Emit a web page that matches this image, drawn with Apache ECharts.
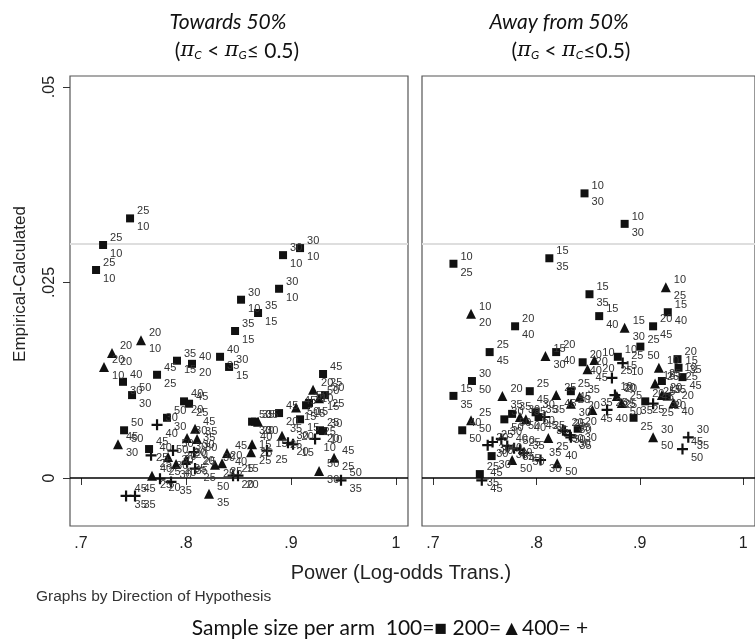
<!DOCTYPE html>
<html>
<head>
<meta charset="utf-8">
<script src="https://cdn.jsdelivr.net/npm/echarts@6/dist/echarts.min.js"></script>
<style>
  html, body { margin: 0; padding: 0; background: #fff; }
  #chart { width: 755px; height: 641px; }
</style>
</head>
<body>
<div id="chart"></div>
<script>
// Each point: [power (log-odds), empirical - calculated, upper label, lower label]
// Panel 1: towards 50%, by sample size per arm
const towards100 = [
  [0.7467, 0.0332, '25', '10'], [0.7210, 0.0298, '25', '10'], [0.7143, 0.0266, '25', '10'],
  [0.9086, 0.0294, '30', '10'], [0.8924, 0.0285, '30', '10'], [0.8886, 0.0242, '30', '10'],
  [0.8524, 0.0228, '30', '10'], [0.8686, 0.0211, '35', '15'], [0.8467, 0.0188, '35', '15'],
  [0.8324, 0.0155, '40', '35'], [0.8410, 0.0142, '30', '15'], [0.7914, 0.0150, '35', '15'],
  [0.8057, 0.0146, '40', '20'], [0.7724, 0.0132, '45', '25'], [0.7400, 0.0123, '40', '30'],
  [0.7486, 0.0106, '50', '30'], [0.7981, 0.0098, '40', '20'], [0.8029, 0.0095, '45', '25'],
  [0.7819, 0.0077, '50', '30'], [0.7410, 0.0061, '50', '50'], [0.7648, 0.0037, '45', '25'],
  [0.9305, 0.0133, '45', '25'], [0.9324, 0.0106, '30', '25'], [0.9171, 0.0096, '50', '15'],
  [0.9143, 0.0093, '30', '15'], [0.8886, 0.0083, '45', '20'], [0.9086, 0.0075, '50', '15'],
  [0.8629, 0.0072, '50', '30'], [0.8657, 0.0072, '35', '20'], [0.9276, 0.0061, '25', '20'],
  [0.9305, 0.0060, '30', '10']
];
const towards200 = [
  [0.7571, 0.0176, '20', '10'], [0.7295, 0.0160, '20', '20'], [0.7219, 0.0142, '20', '10'],
  [0.7352, 0.0043, '45', '30'], [0.8086, 0.0063, '45', '35'], [0.8105, 0.0050, '35', '30'],
  [0.8010, 0.0051, '30', '30'], [0.7829, 0.0027, '50', '30'], [0.7905, 0.0018, '30', '40'],
  [0.8000, 0.0023, '20', '35'], [0.8276, 0.0017, '30', '25'], [0.8343, 0.0019, '20', '25'],
  [0.8390, 0.0032, '45', '40'], [0.7676, 0.0003, '40', '25'], [0.8219, -0.0020, '50', '35'],
  [0.9210, 0.0113, '20', '10'], [0.9267, 0.0102, '50', '15'], [0.9048, 0.0090, '45', '15'],
  [0.8686, 0.0072, '35', '30'], [0.8914, 0.0054, '35', '25'], [0.8629, 0.0043, '40', '25'],
  [0.8619, 0.0033, '15', '25'], [0.9410, 0.0026, '45', '25'], [0.9267, 0.0009, '50', '30']
];
const towards400 = [
  [0.7724, 0.0068, '30', '40'], [0.7667, 0.0029, '40', '25'], [0.7876, 0.0035, '50', '30'],
  [0.8010, 0.0020, '20', '35'], [0.8076, 0.0033, '30', '20'], [0.8086, 0.0012, '25', '25'],
  [0.7752, -0.0001, '25', '20'], [0.7857, -0.0005, '30', '35'], [0.7429, -0.0023, '45', '35'],
  [0.7514, -0.0023, '45', '35'], [0.8448, 0.0003, '25', '20'], [0.8495, 0.0003, '15', '20'],
  [0.8971, 0.0045, '30', '20'], [0.9019, 0.0043, '20', '15'], [0.9229, 0.0050, '25', '10'],
  [0.8771, 0.0035, '15', '25'], [0.9476, -0.0003, '50', '35']
];
// Panel 2: away from 50%
const away100 = [
  [0.7199, 0.0274, '10', '25'], [0.8126, 0.0281, '15', '35'], [0.8466, 0.0364, '10', '30'],
  [0.8854, 0.0325, '10', '30'], [0.7795, 0.0194, '20', '40'], [0.7549, 0.0161, '25', '45'],
  [0.8192, 0.0161, '20', '40'], [0.7378, 0.0124, '30', '50'], [0.7199, 0.0105, '15', '35'],
  [0.7937, 0.0111, '25', '45'], [0.8514, 0.0235, '15', '35'], [0.8608, 0.0207, '15', '40'],
  [0.9129, 0.0194, '20', '45'], [0.9271, 0.0212, '15', '40'], [0.9006, 0.0168, '25', '50'],
  [0.8788, 0.0155, '10', '15'], [0.8448, 0.0148, '20', '40'], [0.7766, 0.0082, '35', '50'],
  [0.7691, 0.0075, '30', '50'], [0.7993, 0.0084, '30', '50'], [0.8022, 0.0078, '35', '45'],
  [0.7284, 0.0061, '40', '50'], [0.7568, 0.0028, '30', '30'], [0.7454, 0.0005, '25', '35'],
  [0.8334, 0.0111, '25', '20'], [0.8400, 0.0063, '20', '30'], [0.9365, 0.0152, '20', '10'],
  [0.9375, 0.0141, '15', '25'], [0.9413, 0.0129, '35', '45'], [0.9214, 0.0124, '25', '15'],
  [0.9261, 0.0104, '35', '20'], [0.9053, 0.0098, '20', '25'], [0.8940, 0.0077, '35', '25']
];
const away200 = [
  [0.7369, 0.0210, '10', '20'], [0.8088, 0.0156, '15', '30'], [0.7672, 0.0105, '20', '35'],
  [0.8192, 0.0106, '25', '45'], [0.8334, 0.0095, '45', '30'], [0.8419, 0.0104, '35', '20'],
  [0.7369, 0.0074, '25', '50'], [0.7842, 0.0078, '30', '50'], [0.7899, 0.0075, '35', '40'],
  [0.8116, 0.0051, '35', '25'], [0.8202, 0.0019, '40', '50'], [0.7766, 0.0023, '30', '50'],
  [0.8854, 0.0192, '15', '30'], [0.9252, 0.0244, '10', '25'], [0.8495, 0.0139, '20', '45'],
  [0.8561, 0.0151, '10', '20'], [0.9185, 0.0141, '10', '25'], [0.9148, 0.0121, '15', '25'],
  [0.9214, 0.0106, '20', '30'], [0.9327, 0.0096, '20', '40'], [0.9129, 0.0052, '30', '50'],
  [0.8779, 0.0105, '20', '25'], [0.8542, 0.0087, '35', '45'], [0.8826, 0.0096, '25', '50']
];
const away400 = [
  [0.7530, 0.0042, '20', '30'], [0.7577, 0.0046, '25', '30'], [0.7662, 0.0050, '30', '40'],
  [0.7719, 0.0041, '40', '30'], [0.7785, 0.0038, '50', '35'], [0.7842, 0.0036, '25', '45'],
  [0.7880, 0.0032, '35', '50'], [0.8041, 0.0023, '35', '30'], [0.8079, 0.0078, '35', '25'],
  [0.8277, 0.0060, '25', '30'], [0.8324, 0.0055, '35', '30'], [0.7473, -0.0003, '45', '45'],
  [0.8835, 0.0147, '25', '10'], [0.8731, 0.0128, '25', '10'], [0.8684, 0.0087, '25', '40'],
  [0.9129, 0.0095, '45', '25'], [0.9469, 0.0052, '30', '35'], [0.9413, 0.0037, '45', '50'],
  [0.8258, 0.0061, '20', '30'], [0.8334, 0.0052, '30', '35'], [0.8760, 0.0106, '20', '25']
];

const xTickValues = [0.7, 0.8, 0.9, 1.0];
const xTickLabels = ['.7', '.8', '.9', '1'];
const yTickValues = [0, 0.025, 0.05];
const yTickLabels = ['0', '.025', '.05'];
const panelTitles = ['Towards 50%', 'Away from 50%'];

const PLUS = 'path://M4,0H6V4H10V6H6V10H4V6H0V4H4Z';
const ARIAL = '"Liberation Sans", Arial, sans-serif';
const CAL = 'Lato, "Open Sans", sans-serif';

const xRange = { min: 0.6895, max: 1.0114 };
const yRange = { min: -0.00614, max: 0.05141 };

function xAxisFor(i) {
  return {
    type: 'value', gridIndex: i, min: xRange.min, max: xRange.max,
    axisLine: { show: false },
    splitLine: { show: false },
    axisTick: { show: true, customValues: xTickValues, length: 7, lineStyle: { color: '#333', width: 1 } },
    axisLabel: {
      customValues: xTickValues, margin: 10, fontSize: 16, color: '#222', fontFamily: ARIAL,
      formatter: v => xTickLabels[xTickValues.findIndex(t => Math.abs(t - v) < 1e-9)] ?? ''
    }
  };
}
function yAxisFor(i) {
  const withLabels = i === 0;
  return {
    type: 'value', gridIndex: i, min: yRange.min, max: yRange.max,
    axisLine: { show: false },
    splitLine: { show: false },
    axisTick: { show: withLabels, customValues: yTickValues, length: 7, lineStyle: { color: '#333', width: 1 } },
    axisLabel: {
      show: withLabels, customValues: yTickValues, rotate: 90, margin: 12,
      fontSize: 16, color: '#222', fontFamily: ARIAL,
      formatter: v => yTickLabels[yTickValues.findIndex(t => Math.abs(t - v) < 1e-9)] ?? ''
    }
  };
}

const pointLabel = {
  show: true, position: 'right', distance: 3, offset: [0, 1],
  fontSize: 11, lineHeight: 16, color: '#333', fontFamily: ARIAL,
  formatter: p => p.data[2] + '\n' + p.data[3]
};

function scatter(data, i, symbol, size, withLines) {
  const s = {
    type: 'scatter', xAxisIndex: i, yAxisIndex: i, data: data,
    symbol: symbol, symbolSize: size, silent: true,
    itemStyle: { color: '#111', opacity: 1 },
    label: pointLabel, z: 3
  };
  if (withLines) {
    s.markLine = {
      silent: true, symbol: 'none', label: { show: false }, z: 1,
      data: [
        { yAxis: 0.025, lineStyle: { color: '#dedede', width: 2, type: 'solid' } },
        { yAxis: 0, lineStyle: { color: '#000', width: 1.5, type: 'solid' } }
      ]
    };
  }
  return s;
}

const subRich = {
  p: { font: 'italic 21px "DejaVu Serif", serif', fill: '#111' },
  s: { font: 'italic 12px ' + CAL, fill: '#111', verticalAlign: 'bottom', padding: [8, 0, 0, 0] }
};

const chart = echarts.init(document.getElementById('chart'), null, { renderer: 'canvas' });
chart.setOption({
  animation: false,
  backgroundColor: '#fff',
  grid: [
    { left: 70, top: 76, width: 338, height: 450, show: true, borderColor: '#555', borderWidth: 1.2, backgroundColor: '#fff' },
    { left: 422, top: 76, width: 338, height: 450, show: true, borderColor: '#555', borderWidth: 1.2, backgroundColor: '#fff' }
  ],
  xAxis: [xAxisFor(0), xAxisFor(1)],
  yAxis: [yAxisFor(0), yAxisFor(1)],
  series: [
    scatter(towards100, 0, 'rect', 8, true),
    scatter(towards200, 0, 'triangle', 10, false),
    scatter(towards400, 0, PLUS, 11, false),
    scatter(away100, 1, 'rect', 8, true),
    scatter(away200, 1, 'triangle', 10, false),
    scatter(away400, 1, PLUS, 11, false)
  ],
  graphic: [
    { type: 'text', x: 228, y: 22, style: { text: panelTitles[0], font: 'italic 21px ' + CAL, fill: '#111', align: 'center', verticalAlign: 'middle' } },
    { type: 'text', x: 559, y: 22, style: { text: panelTitles[1], font: 'italic 21px ' + CAL, fill: '#111', align: 'center', verticalAlign: 'middle' } },
    { type: 'text', x: 237, y: 51, style: {
        text: '({p|π}{s|C} < {p|π}{s|G}≤ 0.5)', align: 'center', verticalAlign: 'middle',
        font: '21px ' + CAL, fill: '#111', rich: subRich
      } },
    { type: 'text', x: 571, y: 51, style: {
        text: '({p|π}{s|G} < {p|π}{s|C}≤0.5)', align: 'center', verticalAlign: 'middle',
        font: '21px ' + CAL, fill: '#111', rich: subRich
      } },
    { type: 'text', x: 20, y: 284, rotation: Math.PI / 2, style: { text: 'Empirical-Calculated', font: '17px ' + ARIAL, fill: '#222', align: 'center', verticalAlign: 'middle' } },
    { type: 'text', x: 401, y: 573, style: { text: 'Power (Log-odds Trans.)', font: '20px ' + ARIAL, fill: '#222', align: 'center', verticalAlign: 'middle' } },
    { type: 'text', x: 36, y: 597, style: { text: 'Graphs by Direction of Hypothesis', font: '15.5px ' + ARIAL, fill: '#333', align: 'left', verticalAlign: 'middle' } },
    { type: 'text', x: 390, y: 628, style: { text: 'Sample size per arm  100=■ 200=▲400= +', font: '21px ' + CAL, fill: '#111', align: 'center', verticalAlign: 'middle' } }
  ]
});
</script>
</body>
</html>
